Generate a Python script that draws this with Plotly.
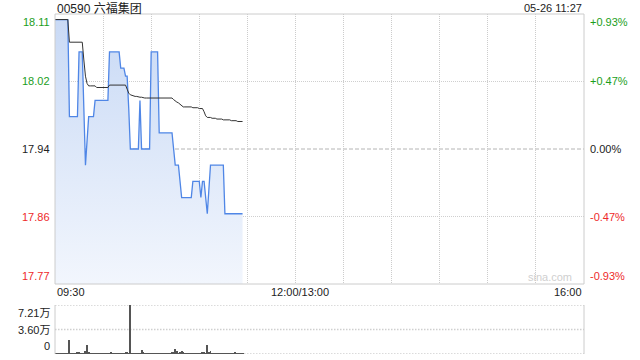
import plotly.graph_objects as go

# ---------------- data ----------------
title_text = "00590 六福集团"
stamp_text = "05-26 11:27"
prev_close = 17.94
pct_limit = 0.0093

price = [
    18.10, 18.10, 18.10, 18.10, 18.10, 18.10, 18.10, 18.10, 18.10,
    17.98, 17.98, 17.98, 17.98, 17.98, 17.98,
    18.06, 18.06, 18.06,
    17.99, 17.92, 17.95,
    17.98, 17.98, 17.98, 17.98,
    18.00, 18.00, 18.00, 18.00, 18.00, 18.00, 18.00, 18.00, 18.00,
    18.06, 18.06, 18.06, 18.06, 18.06, 18.06, 18.06,
    18.04, 18.04, 18.04,
    18.03, 18.03,
    17.99,
    17.94, 17.94, 17.94, 17.94, 17.94, 17.94,
    18.00,
    17.94, 17.94, 17.94, 17.94, 17.94, 17.94,
    18.06, 18.06, 18.06, 18.06, 18.06,
    17.96, 17.96, 17.96, 17.96, 17.96, 17.96, 17.96, 17.96, 17.96,
    17.94,
    17.92, 17.92, 17.92,
    17.90,
    17.88, 17.88, 17.88, 17.88, 17.88, 17.88, 17.88,
    17.90, 17.90, 17.90, 17.90, 17.90,
    17.88,
    17.90, 17.90,
    17.88,
    17.86,
    17.89,
    17.92, 17.92, 17.92, 17.92, 17.92, 17.92, 17.92, 17.92, 17.92,
    17.86, 17.86, 17.86, 17.86, 17.86, 17.86, 17.86, 17.86, 17.86, 17.86, 17.86, 17.86,
]

avg_price = [
    18.10, 18.10, 18.10, 18.10, 18.10, 18.10, 18.10, 18.10, 18.10,
    18.072, 18.072, 18.072, 18.072, 18.072, 18.072, 18.072, 18.072, 18.072,
    18.05, 18.03, 18.021,
    18.018, 18.018, 18.018, 18.018, 18.018,
    18.016, 18.016, 18.016, 18.016, 18.016, 18.016, 18.016, 18.016,
    18.019, 18.019, 18.019, 18.019, 18.019, 18.019, 18.019, 18.019, 18.019, 18.019, 18.019,
    18.014, 18.009,
    18.007, 18.006, 18.006, 18.005, 18.005, 18.004, 18.004, 18.004,
    18.003, 18.003, 18.003, 18.003, 18.003, 18.003, 18.003, 18.003, 18.003, 18.003,
    18.003, 18.003, 18.003, 18.003, 18.003, 18.003, 18.003, 18.003, 18.003,
    18.001, 17.999, 17.998, 17.997, 17.995, 17.993,
    17.992, 17.992, 17.992, 17.992, 17.992, 17.992, 17.991, 17.991, 17.991, 17.991,
    17.990, 17.990, 17.990,
    17.986, 17.981, 17.979,
    17.979, 17.979, 17.978, 17.978, 17.978, 17.977, 17.977, 17.977, 17.977, 17.976, 17.976,
    17.976, 17.976, 17.976, 17.975, 17.975, 17.975, 17.975, 17.974, 17.974, 17.974, 17.974,
]

volume_wan = [
    0.12, 0.10, 0.12, 0.10, 0.13, 0.10, 0.12, 0.10, 0.14, 2.13,
    0.12, 0.10, 0.13, 0.12, 0.15, 0.32, 0.12, 0.10, 0.14, 0.40,
    1.32, 0.30, 0.14, 0.12, 0.10, 0.12, 0.10, 0.13, 0.10, 0.12,
    0.10, 0.12, 0.10, 0.14, 0.12, 0.18, 0.10, 0.12, 0.10, 0.13,
    0.10, 0.12, 0.10, 0.14, 0.15, 0.30, 0.12, 7.21, 0.14, 0.12,
    0.10, 0.12, 0.13, 0.10, 0.62, 0.15, 0.12, 0.10, 0.12, 0.10,
    0.12, 0.10, 0.13, 0.10, 0.12, 0.10, 0.12, 0.10, 0.13, 0.12,
    0.10, 0.12, 0.14, 0.15, 0.18, 0.75, 0.45, 0.14, 0.15, 0.45,
    0.30, 0.12, 0.10, 0.12, 0.10, 0.13, 0.10, 0.12, 0.10, 0.14,
    0.12, 0.10, 0.15, 0.25, 0.12, 1.33, 0.15, 0.45, 0.14, 0.12,
    0.10, 0.12, 0.10, 0.13, 0.10, 0.12, 0.10, 0.12, 0.10, 0.12,
    0.10, 0.12, 0.20, 0.12, 0.10, 0.12, 0.10, 0.12,
]

session_minutes = 330
minutes = list(range(len(price)))

price_tick_text = ["18.11", "18.02", "17.94", "17.86", "17.77"]
pct_tick_text = ["+0.93%", "+0.47%", "0.00%", "-0.47%", "-0.93%"]
vol_tick_text = ["7.21万", "3.60万", "0"]
vol_max = 7.21
time_labels = ["09:30", "12:00/13:00", "16:00"]
time_label_pos = [0, 150, 330]

# ---------------- derived scale values ----------------
p_hi = prev_close * (1 + pct_limit)
p_lo = prev_close * (1 - pct_limit)
p_levels = [p_hi, (p_hi + prev_close) / 2, prev_close, (p_lo + prev_close) / 2, p_lo]
vol_levels = [vol_max, vol_max / 2, 0]

W, H = 640, 360
X0, X1 = 55, 584
PY0, PY1 = 14, 284
VY0, VY1 = 305, 354

GREEN = "#1b9e1b"
RED = "#ee2a2a"
DARK = "#222222"
FONT = "Arial, Liberation Sans, Noto Sans CJK SC, sans-serif"
label_colors = [GREEN, GREEN, DARK, RED, RED]


def px(x):
    return x / W


def py(y):
    return 1 - y / H


fig = go.Figure()

fig.add_trace(go.Scatter(
    x=minutes, y=price, mode="lines",
    line=dict(color="#4f86e6", width=1.3, shape="linear"),
    fill="tozeroy",
    fillgradient=dict(type="vertical", start=p_lo, stop=p_hi,
                      colorscale=[[0, "rgba(242,246,253,1)"], [1, "rgba(200,217,245,1)"]]),
    xaxis="x", yaxis="y", hoverinfo="skip",
))
fig.add_trace(go.Scatter(
    x=minutes, y=avg_price, mode="lines",
    line=dict(color="#333333", width=1),
    xaxis="x", yaxis="y", hoverinfo="skip",
))
fig.add_trace(go.Bar(
    x=minutes, y=volume_wan, width=0.62,
    marker=dict(color="#555555", line=dict(width=0)),
    xaxis="x2", yaxis="y2", hoverinfo="skip",
))

shapes = []
# horizontal grid lines in price panel
for lv in p_levels[1:4]:
    is_base = lv == prev_close
    shapes.append(dict(type="line", xref="x", yref="y", x0=0, x1=session_minutes, y0=lv, y1=lv,
                       line=dict(color="#b4b4b4" if is_base else "#cfcfcf", width=1,
                                 dash="4px,2px" if is_base else "1px,1px"),
                       layer="below"))
# price panel border
shapes.append(dict(type="rect", xref="paper", yref="paper", x0=px(X0), x1=px(X1), y0=py(PY1), y1=py(PY0),
                   line=dict(color="#cccccc", width=1), layer="above"))
# volume grid lines
for lv in vol_levels:
    shapes.append(dict(type="line", xref="x2", yref="y2", x0=0, x1=session_minutes, y0=lv, y1=lv,
                       line=dict(color="#cfcfcf", width=1.5, dash="1.5px,1.5px"), layer="below"))
# volume panel side borders
for xx in (X0, X1):
    shapes.append(dict(type="line", xref="paper", yref="paper", x0=px(xx), x1=px(xx), y0=py(VY1), y1=py(VY0),
                       line=dict(color="#cccccc", width=1)))

ann = []
anchors = ["top", "middle", "middle", "middle", "bottom"]
for lv, t, c, a in zip(p_levels, price_tick_text, label_colors, anchors):
    ann.append(dict(xref="paper", yref="y", x=px(X0 - 3), y=lv, text=t, xanchor="right", yanchor=a,
                    showarrow=False, font=dict(size=11, color=c, family=FONT)))
for lv, t, c, a in zip(p_levels, pct_tick_text, label_colors, anchors):
    ann.append(dict(xref="paper", yref="y", x=px(X1 + 4), y=lv, text=t, xanchor="left", yanchor=a,
                    showarrow=False, font=dict(size=11, color=c, family=FONT)))
for lv, t, a in zip(vol_levels, vol_tick_text, ["top", "middle", "bottom"]):
    ann.append(dict(xref="paper", yref="y2", x=px(X0 - 3), y=lv, text=t, xanchor="right", yanchor=a,
                    showarrow=False, font=dict(size=11, color=DARK, family=FONT)))
for t, pos, xa, sh in zip(time_labels, time_label_pos, ["left", "center", "right"], [0, 5, 0]):
    ann.append(dict(xref="x", yref="paper", x=pos, y=py(292), text=t, xanchor=xa, yanchor="middle",
                    xshift=sh, showarrow=False, font=dict(size=11, color=DARK, family=FONT)))
ann.append(dict(xref="paper", yref="paper", x=px(X0), y=py(8), text=title_text, xanchor="left",
                yanchor="middle", showarrow=False, font=dict(size=12, color=DARK, family=FONT)))
ann.append(dict(xref="paper", yref="paper", x=px(X1), y=py(8), text=stamp_text, xanchor="right",
                yanchor="middle", showarrow=False, font=dict(size=11, color=DARK, family=FONT)))
ann.append(dict(xref="paper", yref="paper", x=px(X1 - 10), y=py(277), text="sina.com", xanchor="right",
                yanchor="middle", showarrow=False, font=dict(size=11, color="#cfcfcf", family=FONT)))

fig.update_layout(
    width=W, height=H,
    margin=dict(l=0, r=0, t=0, b=0),
    paper_bgcolor="white", plot_bgcolor="white",
    showlegend=False,
    bargap=0,
    xaxis=dict(domain=[px(X0), px(X1)], range=[0, session_minutes], tick0=0, dtick=30,
               showgrid=True, gridcolor="#cccccc", griddash="1px,1px", gridwidth=1,
               showticklabels=False, zeroline=False, showline=False, ticks="", fixedrange=True),
    yaxis=dict(domain=[py(PY1), py(PY0)], range=[p_lo, p_hi], showgrid=False,
               showticklabels=False, zeroline=False, showline=False, ticks=""),
    xaxis2=dict(domain=[px(X0), px(X1)], range=[0, session_minutes], anchor="y2",
                showgrid=False, showticklabels=False, zeroline=False, showline=False, ticks=""),
    yaxis2=dict(domain=[py(VY1), py(VY0)], range=[0, vol_max], anchor="x2", showgrid=False,
                showticklabels=False, zeroline=False, showline=False, ticks=""),
    shapes=shapes,
    annotations=ann,
)

fig.write_html("out.html")
